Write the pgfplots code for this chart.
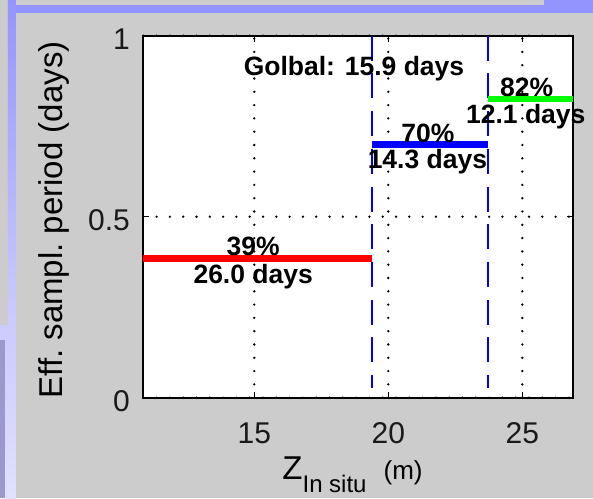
\documentclass[border=0pt]{standalone}
\usepackage{fontspec}
\setmainfont{Liberation Sans}
\usepackage{pgfplots}
\pgfplotsset{compat=1.18}
\definecolor{bggray}{HTML}{CCCCCC}
\definecolor{lav}{HTML}{9494FF}
\definecolor{lavlight}{HTML}{CCCCFF}
\definecolor{lavdark}{HTML}{9999CC}
\definecolor{mgreen}{HTML}{00FF00}
\begin{document}
\begin{tikzpicture}
% figure background
\fill[bggray] (-143.3pt,-100.3pt) rectangle (449.7pt,397.7pt);
\fill[lav] (-135.3pt,392.7pt) rectangle (449.7pt,384.7pt);
\fill[lav] (400.7pt,397.7pt) rectangle (449.7pt,384.7pt);
\shade[top color=lav, bottom color=lavlight] (-135.3pt,397.7pt) rectangle (-127.3pt,72.7pt);
\fill[lavlight] (-143.3pt,72.7pt) rectangle (-127.3pt,57.7pt);
\shade[top color=lavlight, bottom color=lavlight!60!white] (-138.3pt,57.7pt) rectangle (-127.3pt,-100.3pt);
\fill[lavdark] (-143.3pt,57.7pt) rectangle (-138.3pt,-100.3pt);
\begin{axis}[
  at={(0pt,0pt)}, anchor=south west,
  scale only axis, width=429.4pt, height=362pt,
  xmin=10.86, xmax=26.88, ymin=0, ymax=1,
  xtick={15,20,25}, ytick={0,0.5,1},
  xticklabels={15,20,25}, yticklabels={0,0.5,1},
  /pgf/number format/assume math mode=true,
  tick align=inside, major tick length=6pt,
  tick style={black, line width=1.5pt},
  grid=major,
  major grid style={black, line width=2.6pt, dash pattern=on 0pt off 13.3pt, line cap=round},
  axis line style={black, line width=1.8pt},
  axis background/.style={fill=white},
  ticklabel style={font=\fontsize{30}{32}\selectfont, inner sep=0pt, text=black!90},
  xticklabel style={yshift=-25pt},
  yticklabel style={xshift=-13.3pt, yshift=-3pt},
  xlabel={{\fontsize{33}{36}\selectfont Z}\raisebox{-13pt}{\fontsize{24}{26}\selectfont In situ}\hspace{17pt}{\fontsize{26}{28}\selectfont (m)}},
  xlabel style={at={(axis description cs:0.4872,-0.2273)}, anchor=base, inner sep=0pt},
  ylabel={Eff.\ sampl.\ period (days)},
  ylabel style={at={(axis description cs:-0.2091,0.491)}, anchor=center, inner sep=0pt, font=\fontsize{33}{35}\selectfont},
  clip=false,
]
\addplot[blue, line width=2pt, dash pattern=on 25pt off 12.7pt] coordinates {(19.4,1) (19.4,0.027)};
\addplot[blue, line width=2pt, dash pattern=on 25pt off 12.7pt] coordinates {(23.73,1) (23.73,0.027)};
\addplot[red, line width=6.5pt] coordinates {(10.86,0.385) (19.4,0.385)};
\addplot[blue, line width=6.5pt] coordinates {(19.4,0.70) (23.73,0.70)};
\addplot[mgreen, line width=6.5pt] coordinates {(23.73,0.825) (26.88,0.825)};
\begin{scope}[every node/.style={anchor=base, inner sep=0pt, font=\bfseries\fontsize{26.5}{28}\selectfont}]
\node at (axis cs:18.72,0.891) {Golbal: 15.9 days};
\node at (axis cs:14.96,0.394) {39\%};
\node at (axis cs:14.96,0.3155) {26.0 days};
\node at (axis cs:21.48,0.706) {70\%};
\node at (axis cs:21.46,0.6345) {14.3 days};
\node at (axis cs:25.16,0.8307) {82\%};
\node at (axis cs:25.13,0.758) {12.1 days};
\end{scope}
\end{axis}
\pgfresetboundingbox
\useasboundingbox (-143.3pt,-100.3pt) rectangle (449.7pt,397.7pt);
\end{tikzpicture}
\end{document}
